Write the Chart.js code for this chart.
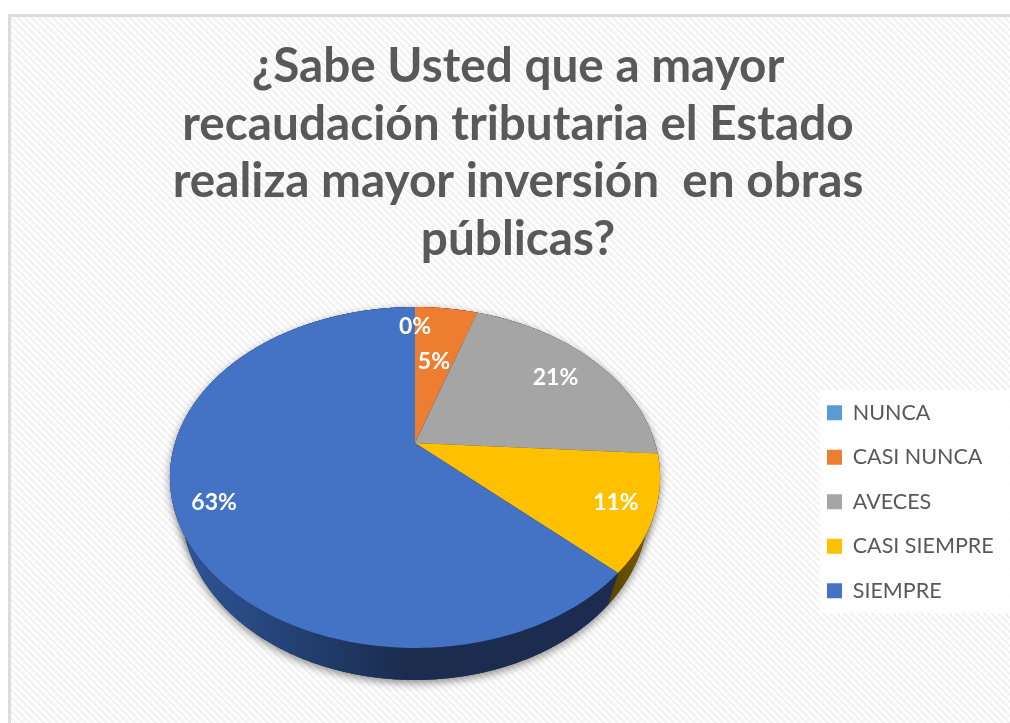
<!DOCTYPE html>
<html>
<head>
<meta charset="utf-8">
<style>
  html, body { margin: 0; padding: 0; background: #fff; }
  canvas { display: block; }
</style>
<script src="https://cdn.jsdelivr.net/npm/chart.js@4"></script>
</head>
<body>
<canvas id="chart" width="1010" height="723"></canvas>
<script>
const titleLines = [
  '¿Sabe Usted que a mayor',
  'recaudación tributaria el Estado',
  'realiza mayor inversión  en obras',
  'públicas?'
]
const categories = ['NUNCA', 'CASI NUNCA', 'AVECES', 'CASI SIEMPRE', 'SIEMPRE']
const percentages = [0, 5, 21, 11, 63]
const sliceColors = ['#5B9BD5', '#ED7D31', '#A5A5A5', '#FFC000', '#4472C4']

// side wall shades, left to right, one list per slice
const wallColors = [
  ['#2f5a86', '#2f5a86'],
  ['#8a4a1c', '#8a4a1c'],
  ['#606060', '#606060'],
  ['#5f4700', '#8a6800'],
  ['#30579b', '#223f70', '#1b2c4f', '#1b2c50']
]
// how far out along the slice each label sits
const labelReach = [0.83, 0.56, 0.77, 0.85, 0.85]

// Perspective tilt of the pie: the centre of the circle lands above the middle of the ellipse
const tilt = { x: 415, y: 443, a: 240, b: 163.5, c: -0.2023, depth: 32, shrink: 0.95 }

function project(angle, reach) {
  const u = Math.cos(angle) * reach
  const v = Math.sin(angle) * reach
  const w = 1 + tilt.c * v
  return { x: tilt.x + tilt.a * u / w, y: tilt.y + tilt.b * v / w }
}

function lower(p) {
  return { x: tilt.x + (p.x - tilt.x) * tilt.shrink, y: p.y + tilt.depth }
}

function rim(start, end) {
  const steps = Math.max(2, Math.ceil((end - start) / 0.01))
  const pts = []
  for (let i = 0; i <= steps; i++) pts.push(project(start + (end - start) * i / steps, 1))
  return pts
}

function tracePoints(ctx, pts) {
  ctx.beginPath()
  pts.forEach((p, i) => (i ? ctx.lineTo(p.x, p.y) : ctx.moveTo(p.x, p.y)))
  ctx.closePath()
}

function hatch() {
  const tile = document.createElement('canvas')
  tile.width = tile.height = 7
  const t = tile.getContext('2d')
  t.fillStyle = '#fefefe'
  t.fillRect(0, 0, 7, 7)
  t.strokeStyle = '#f1f1f1'
  t.lineWidth = 2.2
  for (let i = -7; i <= 7; i += 7) {
    t.beginPath()
    t.moveTo(i, 0)
    t.lineTo(i + 7, 7)
    t.stroke()
  }
  return tile
}

const tiltedPie = {
  id: 'tiltedPie',
  beforeDraw(chart) {
    const ctx = chart.ctx
    ctx.save()
    ctx.fillStyle = '#fff'
    ctx.fillRect(0, 0, chart.width, chart.height)
    ctx.fillStyle = '#dcdcdc'
    ctx.fillRect(8, 14, chart.width - 8, chart.height - 14)
    ctx.fillStyle = ctx.createPattern(hatch(), 'repeat')
    ctx.fillRect(11, 17, chart.width - 11, chart.height - 17)
    ctx.fillStyle = 'rgba(255,255,255,0.85)'
    ctx.fillRect(820, 390, 190, 223)
    ctx.restore()
  },
  afterLayout(chart) {
    // park the legend in its white box on the right
    const legend = chart.legend
    const w = legend.width
    legend.left = 804
    legend.right = 804 + w
    legend.top = 379
    legend.bottom = chart.height
  },
  beforeDatasetsDraw(chart) {
    const ctx = chart.ctx
    const arcs = chart.getDatasetMeta(0).data
    ctx.save()

    // silhouette with a soft shadow under the pie
    const all = rim(0, Math.PI * 2)
    ctx.save()
    ctx.shadowColor = 'rgba(0,0,0,0.45)'
    ctx.shadowBlur = 9
    ctx.shadowOffsetY = 3
    ctx.fillStyle = '#1b2c50'
    tracePoints(ctx, all.map(lower))
    ctx.fill()
    tracePoints(ctx, all)
    ctx.fill()
    ctx.restore()

    // walls
    arcs.forEach((arc, i) => {
      if (arc.endAngle <= arc.startAngle) return
      const top = rim(arc.startAngle, arc.endAngle)
      const xs = top.map(p => p.x)
      const grad = ctx.createLinearGradient(Math.min(...xs), 0, Math.max(...xs), 0)
      const shades = wallColors[i]
      if (i === 4) {
        grad.addColorStop(0, shades[0])
        grad.addColorStop(0.3, shades[1])
        grad.addColorStop(0.52, shades[2])
        grad.addColorStop(1, shades[3])
      } else {
        shades.forEach((c, k) => grad.addColorStop(k / (shades.length - 1), c))
      }
      ctx.fillStyle = grad
      tracePoints(ctx, top.concat(top.map(lower).reverse()))
      ctx.fill()
    })

    // top faces
    arcs.forEach(arc => {
      if (arc.endAngle <= arc.startAngle) return
      const pts = rim(arc.startAngle, arc.endAngle)
      pts.unshift({ x: tilt.x, y: tilt.y })
      ctx.fillStyle = arc.options.backgroundColor
      tracePoints(ctx, pts)
      ctx.fill()
    })

    // percent labels
    const total = percentages.reduce((a, b) => a + b, 0)
    ctx.fillStyle = '#fff'
    ctx.font = 'bold 23px Lato'
    ctx.textAlign = 'center'
    ctx.textBaseline = 'middle'
    arcs.forEach((arc, i) => {
      const p = project((arc.startAngle + arc.endAngle) / 2, labelReach[i])
      ctx.fillText(Math.round(percentages[i] / total * 100) + '%', p.x, p.y)
    })
    ctx.restore()
    return false
  }
}

new Chart(document.getElementById('chart'), {
  type: 'pie',
  data: {
    labels: categories,
    datasets: [{ data: percentages, backgroundColor: sliceColors, borderWidth: 0 }]
  },
  options: {
    responsive: false,
    animation: false,
    layout: { padding: { left: 26 } },
    plugins: {
      title: {
        display: true,
        text: titleLines,
        color: '#595959',
        font: { family: 'Lato', size: 47.7, weight: 'bold', lineHeight: 1.205 },
        padding: { top: 38, bottom: 0 }
      },
      legend: {
        position: 'right',
        align: 'start',
        labels: {
          color: '#595959',
          font: { family: 'Lato', size: 21.5 },
          boxWidth: 15,
          boxHeight: 15,
          padding: 23
        }
      },
      tooltip: { enabled: false }
    }
  },
  plugins: [tiltedPie]
})
</script>
</body>
</html>
